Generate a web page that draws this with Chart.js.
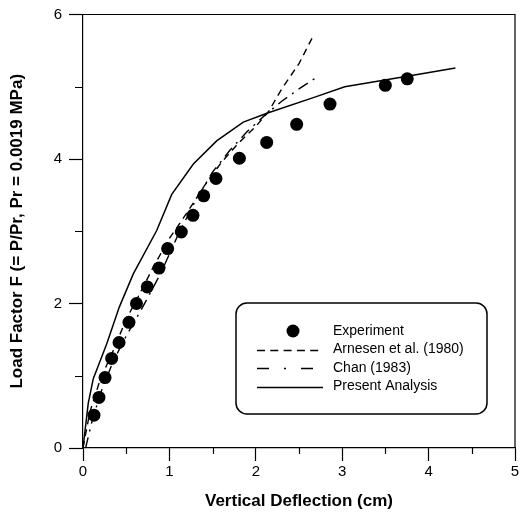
<!DOCTYPE html>
<html>
<head>
<meta charset="utf-8">
<script src="https://cdn.jsdelivr.net/npm/chart.js@4/dist/chart.umd.min.js"></script>
<style>
  html, body { margin: 0; padding: 0; background: #fff; }
</style>
</head>
<body>
<canvas id="c" width="523" height="522"></canvas>
<script>
// experiment points
const expX = [0.127, 0.185, 0.255, 0.332, 0.417, 0.532, 0.619, 0.744, 0.88, 0.98, 1.138, 1.273, 1.397, 1.539, 1.81, 2.126, 2.473, 2.859, 3.499, 3.753];
const expY = [0.455, 0.70, 0.975, 1.24, 1.46, 1.74, 2.0, 2.23, 2.49, 2.76, 2.99, 3.22, 3.49, 3.73, 4.01, 4.23, 4.48, 4.76, 5.02, 5.11];

// Arnesen et al. (1980)
const arnX = [0, 0.08, 0.2, 0.35, 0.5, 0.65, 0.82, 1.0, 1.2, 1.4, 1.6, 1.8, 2.0, 2.15, 2.3, 2.5, 2.65];
const arnY = [0, 0.5, 0.95, 1.35, 1.78, 2.12, 2.52, 2.9, 3.25, 3.62, 3.95, 4.22, 4.45, 4.66, 4.97, 5.32, 5.67];

// Chan (1983)
const chanX = [0.03, 0.1, 0.2, 0.35, 0.5, 0.7, 0.9, 1.1, 1.3, 1.5, 1.7, 1.9, 2.1, 2.3, 2.5, 2.69];
const chanY = [0, 0.35, 0.75, 1.2, 1.55, 1.97, 2.42, 2.95, 3.42, 3.82, 4.12, 4.38, 4.6, 4.8, 4.97, 5.12];

// Present Analysis
const presX = [0, 0.061, 0.119, 0.274, 0.42, 0.582, 0.853, 1.027, 1.277, 1.547, 1.855, 2.145, 2.666, 3.03, 3.82, 4.31];
const presY = [0, 0.62, 0.96, 1.44, 1.95, 2.41, 3.01, 3.51, 3.93, 4.25, 4.51, 4.64, 4.85, 5.0, 5.16, 5.26];

const xMinor = [0.5, 1.5, 2.5, 3.5, 4.5];
const yMinor = [1, 3, 5];

const FONT = '"Liberation Sans", Arial, sans-serif';

const pts = (xs, ys) => xs.map((x, i) => ({ x: x, y: ys[i] }));

const frame = {
  id: 'frame',
  afterDraw(chart) {
    const { ctx, chartArea: a, scales } = chart;
    ctx.save();
    ctx.strokeStyle = '#000';
    ctx.lineWidth = 1.2;
    ctx.beginPath();
    ctx.moveTo(a.left, a.top);
    ctx.lineTo(a.right, a.top);
    ctx.lineTo(a.right, a.bottom);
    ctx.stroke();
    // minor ticks
    ctx.beginPath();
    xMinor.forEach(v => {
      const px = Math.round(scales.x.getPixelForValue(v)) + 0.5;
      ctx.moveTo(px, a.bottom);
      ctx.lineTo(px, a.bottom + 6);
    });
    yMinor.forEach(v => {
      const py = Math.round(scales.y.getPixelForValue(v)) + 0.5;
      ctx.moveTo(a.left, py);
      ctx.lineTo(a.left - 8, py);
    });
    ctx.stroke();

    // legend box
    const bx = 236, by = 303, bw = 251, bh = 111, r = 11;
    ctx.fillStyle = '#fff';
    ctx.lineWidth = 1.5;
    ctx.beginPath();
    ctx.roundRect(bx, by, bw, bh, r);
    ctx.fill();
    ctx.stroke();

    const rows = [331, 349.5, 368, 386.5];
    const ds = chart.data.datasets;
    ctx.font = '14px ' + FONT;
    ctx.textBaseline = 'middle';
    ctx.textAlign = 'left';
    ds.forEach((d, i) => {
      const y = rows[i];
      ctx.fillStyle = '#000';
      ctx.strokeStyle = '#000';
      if (d.showLine) {
        ctx.lineWidth = d.borderWidth;
        ctx.setLineDash(d.legendDash || []);
        ctx.beginPath();
        ctx.moveTo(257, Math.round(y) + 0.5);
        ctx.lineTo(i === 2 ? 315 : 323, Math.round(y) + 0.5);
        ctx.stroke();
        ctx.setLineDash([]);
      } else {
        ctx.beginPath();
        ctx.arc(293, y, d.pointRadius, 0, Math.PI * 2);
        ctx.fill();
      }
      ctx.fillText(d.label, 333, y);
    });
    ctx.restore();
  }
};

new Chart(document.getElementById('c'), {
  type: 'scatter',
  data: {
    datasets: [
      {
        label: 'Experiment',
        data: pts(expX, expY),
        showLine: false,
        pointRadius: 6.5,
        pointBackgroundColor: '#000',
        pointBorderWidth: 0,
        order: 0
      },
      {
        label: 'Arnesen et al. (1980)',
        data: pts(arnX, arnY),
        showLine: true,
        borderColor: '#000',
        borderWidth: 1.4,
        borderDash: [7, 5],
        legendDash: [8, 5.3],
        pointRadius: 0,
        order: 1
      },
      {
        label: 'Chan (1983)',
        data: pts(chanX, chanY),
        showLine: true,
        borderColor: '#000',
        borderWidth: 1.4,
        borderDash: [11, 6, 2, 6],
        legendDash: [12, 15, 2, 15],
        pointRadius: 0,
        order: 2
      },
      {
        label: 'Present Analysis',
        data: pts(presX, presY),
        showLine: true,
        borderColor: '#000',
        borderWidth: 1.5,
        pointRadius: 0,
        order: 3
      }
    ]
  },
  options: {
    responsive: false,
    animation: false,
    layout: { padding: { top: 13, right: 8, left: 0, bottom: 0 } },
    plugins: {
      legend: { display: false },
      tooltip: { enabled: false }
    },
    scales: {
      x: {
        type: 'linear',
        min: 0,
        max: 5,
        afterFit: s => { s.height = 74; },
        ticks: { stepSize: 1, color: '#000', padding: 3, font: { family: FONT, size: 15, lineHeight: 1 } },
        grid: { drawOnChartArea: false, tickLength: 13, color: '#000', tickWidth: 1.2 },
        border: { color: '#000', width: 1.2 },
        title: {
          display: true,
          text: 'Vertical Deflection (cm)',
          color: '#000',
          font: { family: FONT, size: 17, weight: 'bold' },
          padding: { top: 0, bottom: 10 }
        }
      },
      y: {
        type: 'linear',
        min: 0,
        max: 6,
        afterFit: s => { s.width = 83; },
        ticks: { stepSize: 2, color: '#000', padding: 7, font: { family: FONT, size: 15, lineHeight: 1 } },
        grid: { drawOnChartArea: false, tickLength: 14, color: '#000', tickWidth: 1.2 },
        border: { color: '#000', width: 1.2 },
        title: {
          display: true,
          text: 'Load Factor F (= P/Pr, Pr = 0.0019 MPa)',
          color: '#000',
          font: { family: FONT, size: 17, weight: 'bold' },
          padding: { top: 7, bottom: 0 }
        }
      }
    }
  },
  plugins: [frame]
});
</script>
</body>
</html>
